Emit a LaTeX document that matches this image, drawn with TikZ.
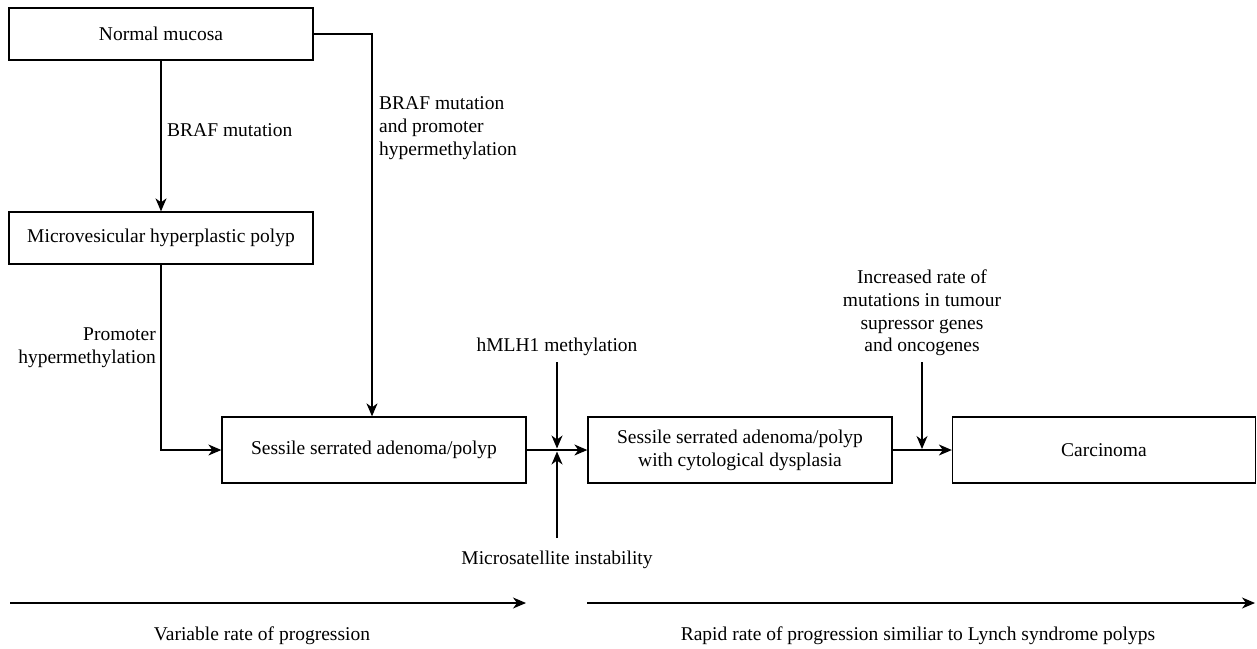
\documentclass[tikz,border=0pt]{standalone}
\usepackage{fontspec}
\setmainfont{Liberation Serif}
\usetikzlibrary{arrows.meta,calc}
\begin{document}
\begin{tikzpicture}[x=1pt,y=-1pt,
  every node/.style={font=\fontsize{19.5}{22.7}\selectfont, inner sep=0pt},
  box/.style={draw, line width=1.3pt, minimum width=304pt, align=center},
  lbl/.style={align=center},
  conn/.style={line width=1.3pt, -{Stealth[length=13pt,width=11pt,inset=4pt]}},
  plain/.style={line width=1.3pt}]
\useasboundingbox (0,0) rectangle (1257,648);
% boxes
\node[box, minimum height=52pt] (nm) at (161,34) {Normal mucosa};
\node[box, minimum height=52pt] (mhp) at (161,238) {Microvesicular hyperplastic polyp};
\node[box, minimum height=66pt] (ssa) at (374,450) {Sessile serrated adenoma/polyp};
\node[box, minimum height=66pt] (ssad) at (740,450) {Sessile serrated adenoma/polyp\\with cytological dysplasia};
\node[box, minimum height=66pt, minimum width=303pt] (car) at (1104,450) {Carcinoma};
% labels
\node[anchor=west] (l1) at (167,130) {BRAF mutation};
\node[anchor=west, align=left] (l2) at (379,128) {BRAF mutation\\and promoter\\hypermethylation};
\node[anchor=east, align=right] (l3) at (156,348) {Promoter\\hypermethylation};
\node[lbl] (hm) at (557,347) {hMLH1 methylation};
\node[lbl] (msi) at (557,560) {Microsatellite instability};
\node[lbl] (inc) at (922,313) {Increased rate of\\mutations in tumour\\supressor genes\\and oncogenes};
\node[lbl] (var) at (262,636) {Variable rate of progression};
\node[lbl] (rap) at (918,636) {Rapid rate of progression similiar to Lynch syndrome polyps};
% coordinates
\coordinate (j) at (557,450);
\coordinate (k) at (922,450);
\coordinate (hmtop) at (557,362);
\coordinate (msibot) at (557,538);
\coordinate (inctop) at (922,362);
\coordinate (bendx) at (372,0);
\coordinate (a1) at (10,603);
\coordinate (a2) at (526,603);
\coordinate (b1) at (587,603);
\coordinate (b2) at (1255,603);
% connectors
\draw[conn] (nm.south) -- (mhp.north);
\draw[conn] (nm.east) -| (bendx |- ssa.north);
\draw[conn] (mhp.south) |- (ssa.west);
\draw[conn] (ssa.east) -- (ssad.west);
\draw[conn] (ssad.east) -- (car.west);
\draw[conn, shorten >=1.5pt] (hmtop) -- (j);
\draw[conn, shorten >=1.5pt] (msibot) -- (j);
\draw[conn, shorten >=1pt] (inctop) -- (k);
\draw[conn] (a1) -- (a2);
\draw[conn] (b1) -- (b2);
\end{tikzpicture}
\end{document}
